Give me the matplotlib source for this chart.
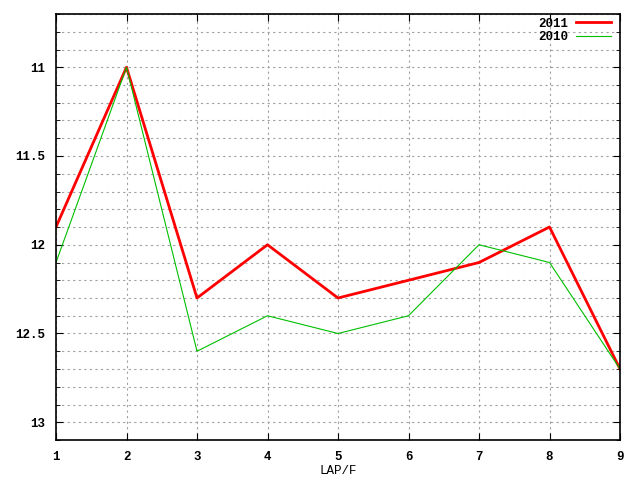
import numpy as np
import matplotlib
matplotlib.use("Agg")
import matplotlib.pyplot as plt
from matplotlib.ticker import MultipleLocator

# lap number and times per season
laps = [1, 2, 3, 4, 5, 6, 7, 8, 9]
y2011 = [11.9, 11.0, 12.3, 12.0, 12.3, 12.2, 12.1, 11.9, 12.7]
y2010 = [12.1, 11.0, 12.6, 12.4, 12.5, 12.4, 12.0, 12.1, 12.7]
yticks = [11, 11.5, 12, 12.5, 13]

plt.rcParams['font.family'] = ['Liberation Mono', 'DejaVu Sans Mono']
plt.rcParams['font.weight'] = 'bold'
plt.rcParams['font.size'] = 9

fig = plt.figure(figsize=(6.4, 4.8), dpi=100)
ax = fig.add_axes([56/640, 1-440/480, (620-56)/640, (440-14)/480])

ax.plot(laps, y2011, color='#ff0000', lw=2, label='2011')
ax.plot(laps, y2010, color='#00c000', lw=0.8, label='2010')

ax.set_xlim(1, 9)
ax.set_ylim(13.1, 10.7)
ax.set_xticks(laps)
ax.set_yticks(yticks)
ax.set_yticklabels(['11', '11.5', '12', '12.5', '13'])
ax.yaxis.set_minor_locator(MultipleLocator(0.1))
ax.grid(True, which='both', color='#a0a0a0', ls=(0, (2, 3)), lw=0.8)
ax.tick_params(direction='in', which='both', right=True, top=True, length=5, pad=8)
ax.tick_params(which='minor', length=3)
for s in ax.spines.values():
    s.set_linewidth(1.2)

ax.set_xlabel('LAP/F', labelpad=1)
leg = ax.legend(loc='upper right', frameon=False, markerfirst=False,
                handlelength=2.8, handletextpad=0.6, borderaxespad=0.0,
                borderpad=0.3, labelspacing=0.1, bbox_to_anchor=(0.99, 1.0))

fig.savefig('out.png', dpi=100)
